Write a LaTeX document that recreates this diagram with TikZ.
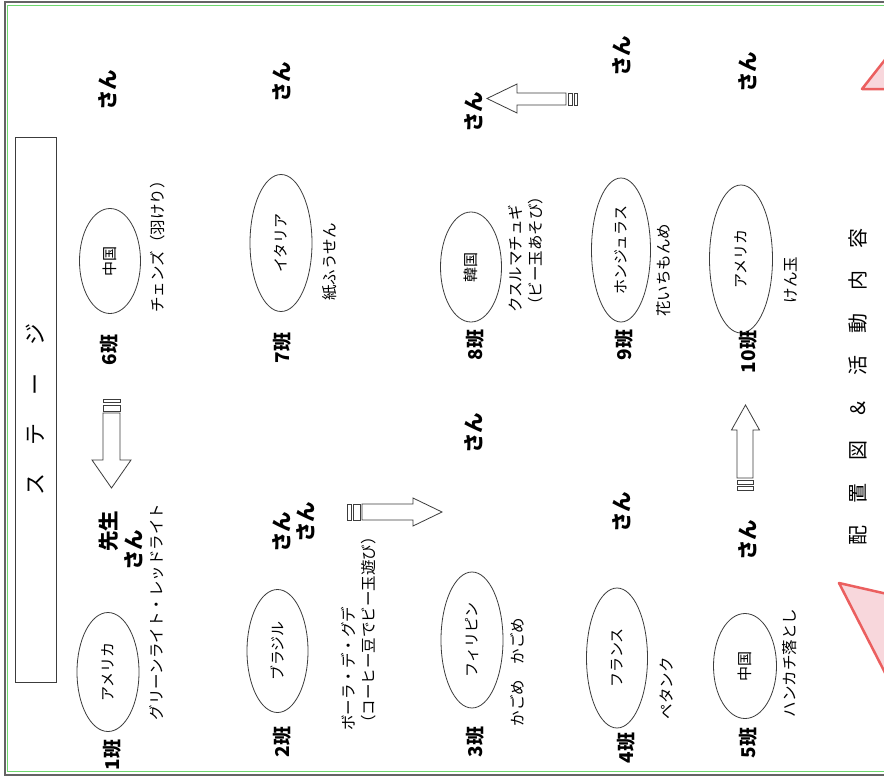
\documentclass[tikz,border=0pt]{standalone}
\usepackage{fontspec}
\setmainfont{Noto Sans CJK JP}
\usetikzlibrary{shapes.geometric}
\definecolor{frame}{RGB}{100,100,100}
\definecolor{framegreen}{RGB}{110,215,110}
\definecolor{trired}{RGB}{235,95,95}
\definecolor{tripink}{RGB}{248,215,220}
\definecolor{ink}{RGB}{60,60,60}
\begin{document}
\begin{tikzpicture}[x=1pt,y=-1pt,
  country/.style={ellipse, draw=ink, line width=0.8pt, rotate=90, inner sep=0pt, font=\fontsize{15}{17}\selectfont},
  cls/.style={rotate=90, inner sep=0pt, font=\bfseries\fontsize{19}{21}\selectfont},
  san/.style={rotate=90, inner sep=0pt, font=\bfseries\fontsize{20.5}{22}\selectfont},
  act/.style={rotate=90, inner sep=0pt, align=left, font=\fontsize{15.5}{20}\selectfont},
  blk/.style={draw=ink, fill=white, line width=0.8pt, line join=miter},
  tri/.style={draw=trired, fill=tripink, line width=2.5pt, line join=round}
]
\useasboundingbox (0,0) rectangle (884,782);
\clip (0,0) rectangle (884,782);
\fill[white] (0,0) rectangle (884,782);
% frame
\draw[frame, line width=2pt] (5,2) rectangle (900,775);
\draw[framegreen, line width=1pt] (7.5,5) rectangle (900,771.5);

% stage
\node[draw=ink, line width=1pt, rotate=90, minimum width=545pt, minimum height=41pt, inner sep=0pt,
      font=\fontsize{22}{24}\selectfont] (stage) at (35.5,409.5)
      {ス\hspace{28pt}テ\hspace{28pt}ー\hspace{28pt}ジ};

% title
\node[rotate=90, inner sep=0pt, font=\fontsize{20}{22}\selectfont] (title) at (858,387)
      {配\hspace{22.5pt}置\hspace{22.5pt}図\hspace{22.5pt}＆\hspace{22.5pt}活\hspace{22.5pt}動\hspace{22.5pt}内\hspace{22.5pt}容};

% triangles
\draw[tri] (862,89) -- (910,28) -- (910,89) -- cycle;
\draw[tri] (839,583) -- (940,606) -- (900,702) -- cycle;

% countries
\node[country, minimum width=119pt, minimum height=62pt] (e1) at (108,672) {アメリカ};
\node[country, minimum width=123pt, minimum height=61pt] (e2) at (277.5,651) {ブラジル};
\node[country, minimum width=136pt, minimum height=62pt] (e3) at (472,640) {フィリピン};
\node[country, minimum width=140pt, minimum height=61pt] (e4) at (617,658) {フランス};
\node[country, minimum width=105pt, minimum height=63pt] (e5) at (745,666) {中国};
\node[country, minimum width=105pt, minimum height=61pt] (e6) at (110,261) {中国};
\node[country, minimum width=137pt, minimum height=62pt] (e7) at (281,243) {イタリア};
\node[country, minimum width=110pt, minimum height=61pt] (e8) at (471,267) {韓国};
\node[country, minimum width=144pt, minimum height=59pt] (e9) at (621,250) {ホンジュラス};
\node[country, minimum width=148pt, minimum height=63pt] (e10) at (741,259) {アメリカ};

% class labels
\node[cls] (c1) at (112,755) {1班};
\node[cls] (c2) at (282,742) {2班};
\node[cls] (c3) at (475,742) {3班};
\node[cls] (c4) at (626,748) {4班};
\node[cls] (c5) at (748,743) {5班};
\node[cls] (c6) at (109,350) {6班};
\node[cls] (c7) at (282,348) {7班};
\node[cls] (c8) at (475,345) {8班};
\node[cls] (c9) at (624,345) {9班};
\node[cls] (c10) at (748,352) {10班};

% activities
\node[act] (a1) at (157,612) {グリーンライト・レッドライト};
\node[act, anchor=west] (a2) at (359,731) {ボーラ・デ・グデ\\（コーヒー豆でビー玉遊び）};
\node[act] (a3) at (517,672) {かごめ　かごめ};
\node[act] (a4) at (667,688) {ペタンク};
\node[act] (a5) at (790,663) {ハンカチ落とし};
\node[act] (a6) at (158,243) {チェンズ（羽けり）};
\node[act] (a7) at (330,262) {紙ふうせん};
\node[act, anchor=west] (a8) at (525.5,313) {クスルマチュギ\\（ビー玉あそび）};
\node[act] (a9) at (664,270) {花いちもんめ};
\node[act] (a10) at (791,280) {けん玉};

% san labels
\node[san] (t1) at (109,531) {先生};
\node[san] (s1) at (134,550) {さん};
\node[san] (s2a) at (282,532) {さん};
\node[san] (s2b) at (306,522) {さん};
\node[san] (s3) at (474,433) {さん};
\node[san] (s4) at (622,512) {さん};
\node[san] (s5) at (748,540) {さん};
\node[san] (s6) at (108,90) {さん};
\node[san] (s7) at (282,82) {さん};
\node[san] (s8) at (474,112) {さん};
\node[san] (s9) at (622,56) {さん};
\node[san] (s10) at (748,72) {さん};

% block arrows
% down arrow
\draw[blk] (103,399) rectangle (120,402.5);
\draw[blk] (103,405) rectangle (120,411);
\draw[blk] (103,413) -- (103,460) -- (92,460) -- (111.5,488) -- (131,460) -- (120,460) -- (120,413) -- cycle;
% right arrow
\draw[blk] (347,504) rectangle (351,520);
\draw[blk] (353,504) rectangle (360,520);
\draw[blk] (362,504) -- (413,504) -- (413,498) -- (442,512) -- (413,526) -- (413,520) -- (362,520) -- cycle;
% left arrow
\draw[blk] (568,93) rectangle (572,105);
\draw[blk] (574,93) rectangle (577,105);
\draw[blk] (566,93) -- (517,93) -- (517,84) -- (487,98.5) -- (517,113) -- (517,105) -- (566,105) -- cycle;
% up arrow
\draw[blk] (737,480) rectangle (753,484.5);
\draw[blk] (737,486.5) rectangle (753,490);
\draw[blk] (737,478) -- (737,430) -- (731.5,430) -- (745.5,405) -- (759.5,430) -- (753,430) -- (753,478) -- cycle;
\end{tikzpicture}
\end{document}
